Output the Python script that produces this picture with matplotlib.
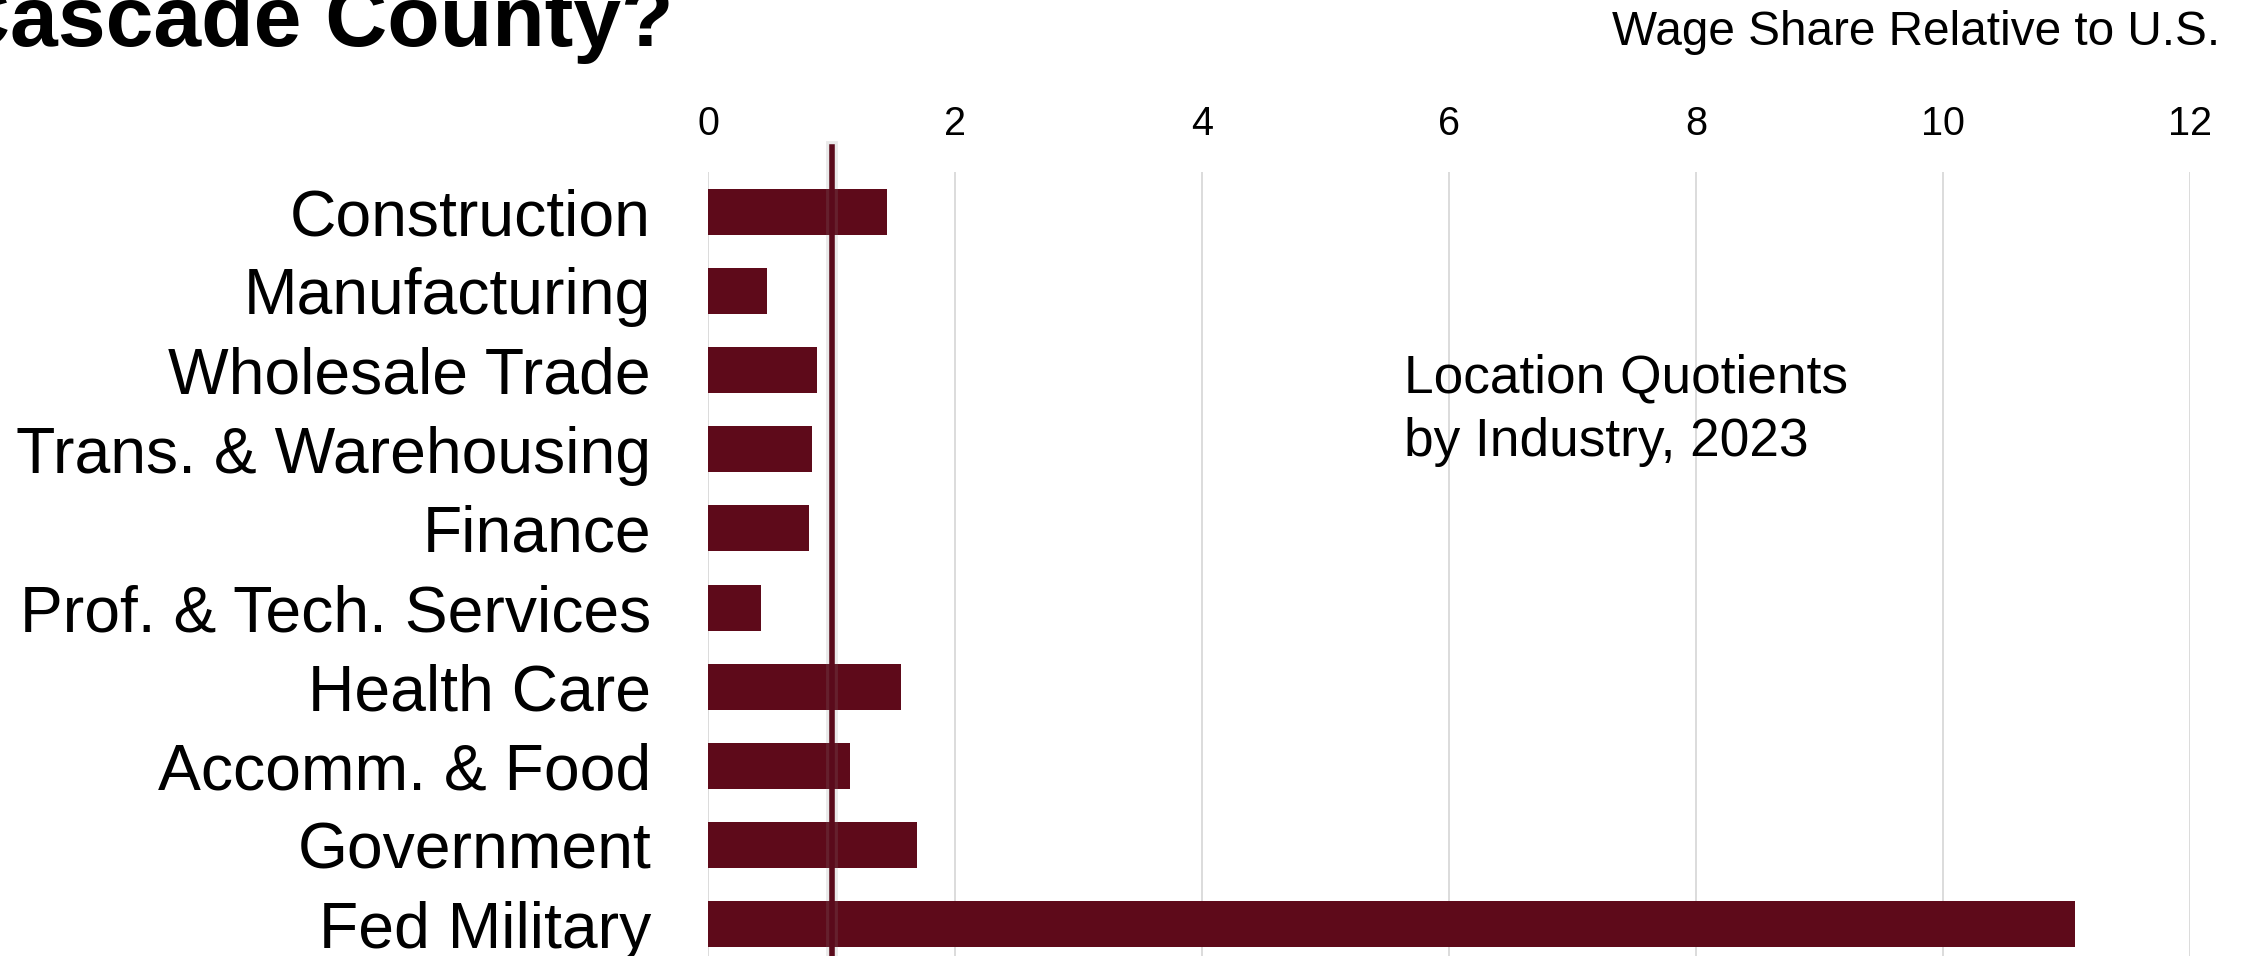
import matplotlib
matplotlib.use("Agg")
import matplotlib.pyplot as plt

categories = ["Construction", "Manufacturing", "Wholesale Trade", "Trans. & Warehousing",
              "Finance", "Prof. & Tech. Services", "Health Care", "Accomm. & Food",
              "Government", "Fed Military"]
lq_values = [1.45, 0.48, 0.88, 0.84, 0.82, 0.43, 1.56, 1.15, 1.69, 11.07]
x_ticks = [0, 2, 4, 6, 8, 10, 12]
reference_value = 1.0

title_text = "Cascade County?"
axis_title = "Wage Share Relative to U.S."
note_text = "Location Quotients\nby Industry, 2023"

BAR = "#5e0a1a"
W, H = 2248, 956
plt.rcParams['font.family'] = ['Liberation Sans', 'DejaVu Sans']

fig = plt.figure(figsize=(W / 100, H / 100), dpi=100)
fig.patch.set_facecolor("white")

ax_left, ax_right = 708, 2190
ax_top, ax_bottom = 172, 964
ax = fig.add_axes([ax_left / W, (H - ax_bottom) / H, (ax_right - ax_left) / W, (ax_bottom - ax_top) / H])

ypos = list(range(len(categories)))
ax.barh(ypos, lq_values, height=0.58, color=BAR, zorder=2)
ax.set_ylim(len(categories) - 0.5, -0.5)
ax.set_xlim(0, 12)
ax.set_xticks(x_ticks)
ax.set_xticklabels([str(t) for t in x_ticks])
ax.xaxis.tick_top()
ax.tick_params(axis="x", length=0, pad=21, labelsize=28.5)
ax.set_yticks(ypos)
ax.set_yticklabels(categories)
ax.tick_params(axis="y", length=0, pad=41, labelsize=46.3)
for s in ax.spines.values():
    s.set_visible(False)
ax.grid(axis="x", color="#d9d9d9", linewidth=1.3, zorder=0)
ax.grid(axis="y", visible=False)
ax.set_axisbelow(True)

# reference line with soft shadow
ymax = (ax_bottom - 147) / (ax_bottom - ax_top)
ax.axvline(reference_value, ymin=0, ymax=ymax, color="#888888", alpha=0.18, linewidth=8.5,
           clip_on=False, zorder=3)
ax.axvline(reference_value, ymin=0, ymax=ymax, color="#5a0a1b", linewidth=4.0,
           clip_on=False, zorder=4)

fig.text(-52 / W, 1 - 46 / H, title_text, fontsize=61.8, fontweight="bold",
         ha="left", va="baseline", color="black")
fig.text(2220 / W, 1 - 45 / H, axis_title, fontsize=34.4, ha="right", va="baseline", color="black")
fig.text(1404 / W, 1 - 456 / H, note_text, fontsize=38.3, ha="left", va="baseline",
         linespacing=1.34, color="black")

fig.savefig("out.png", dpi=100, facecolor="white")
